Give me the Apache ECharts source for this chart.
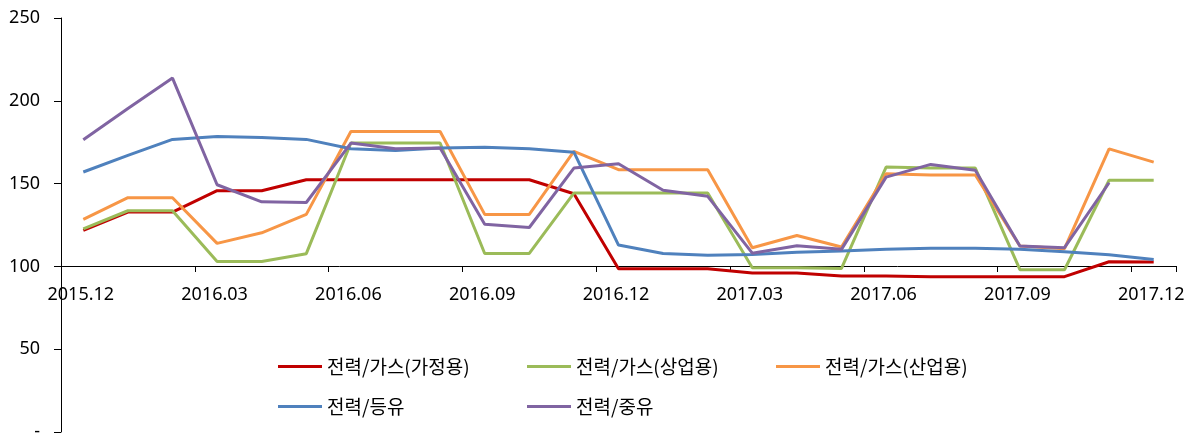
<!DOCTYPE html>
<html>
<head>
<meta charset="utf-8">
<script src="https://cdn.jsdelivr.net/npm/echarts@6/dist/echarts.min.js"></script>
<style>html,body{margin:0;padding:0;background:#fff;overflow:hidden;}#c{width:1199px;height:433px;}</style>
</head>
<body>
<div id="c"></div>
<script>
const categories = ['2015.12','2016.01','2016.02','2016.03','2016.04','2016.05','2016.06','2016.07','2016.08','2016.09','2016.10','2016.11','2016.12','2017.01','2017.02','2017.03','2017.04','2017.05','2017.06','2017.07','2017.08','2017.09','2017.10','2017.11','2017.12'];
const seriesNames = ['전력/가스(가정용)','전력/가스(상업용)','전력/가스(산업용)','전력/등유','전력/중유'];
const household = [121.7,132.8,132.8,145.7,145.7,152.3,152.3,152.3,152.3,152.3,152.3,143.9,98.6,98.6,98.6,96,96,94.2,94.2,93.8,93.8,93.8,93.8,102.8,102.6];
const commercial = [122.7,133.6,133.6,103,103,107.7,174.5,174.5,174.5,107.8,107.8,144.3,144.3,144.3,144.3,99.2,99.2,98.8,160,159.4,159.4,98,98,152,152];
const industrial = [128.4,141.5,141.5,113.9,120.3,131.4,181.5,181.5,181.5,131.4,131.4,169.4,158.4,158.4,158.4,111.3,118.7,111.7,156,155.2,155.2,112.3,110.7,171,163];
const kerosene = [157,167,176.7,178.5,177.9,176.7,171,170,171.5,172,171,169,112.9,107.8,106.8,107.2,108.6,109.3,110.3,111,110.9,110.3,108.9,107,104.2];
const heavyOil = [176.5,195.4,213.7,149.3,139,138.6,174.5,171.1,171.5,125.4,123.5,159.4,162,146,142.3,108,112.5,110.3,153.9,161.6,158,112.3,111.3,150.5,null];
const yTicks = [0,50,100,150,200,250];

const colors = ['#C00000','#9BBB59','#F79646','#4F81BD','#8064A2'];
const values = [household, commercial, industrial, kerosene, heavyOil];
const legendPos = [[278,357],[527,357],[776,357],[278,397],[527,397]];

const chart = echarts.init(document.getElementById('c'), null, {renderer:'canvas'});
chart.setOption({
  animation:false,
  color: colors,
  grid:{left:61, right:23, top:18, bottom:1, containLabel:false, outerBoundsMode:'none'},
  legend: seriesNames.map((n,i)=>({
    data:[n], left:legendPos[i][0], top:legendPos[i][1], padding:0,
    icon:'rect', itemWidth:44, itemHeight:3, itemGap:5,
    textStyle:{fontFamily:'Noto Sans CJK KR', fontSize:19, color:'#000', padding:[0,0,0,0]}
  })),
  xAxis:{
    type:'category', data:categories, boundaryGap:true, position:'bottom', offset:-166,
    axisLine:{onZero:false, lineStyle:{color:'#000', width:1}},
    axisTick:{show:true, interval:2, alignWithLabel:false, length:6, inside:false, lineStyle:{color:'#000'}},
    axisLabel:{interval:2, color:'#000', fontFamily:'Noto Sans', fontSize:18, margin:20, padding:[0,5,0,0]},
    splitLine:{show:false}
  },
  yAxis:{
    type:'value', min:0, max:250, interval:50,
    axisLine:{show:true, lineStyle:{color:'#000', width:1}},
    axisTick:{show:true, length:7, lineStyle:{color:'#000'}},
    axisLabel:{color:'#000', fontFamily:'Noto Sans', fontSize:18, margin:21,
      formatter:function(v){ return yTicks.indexOf(v)===0 ? '-' : String(v); }},
    splitLine:{show:false}
  },
  series: seriesNames.map((n,i)=>({
    name:n, type:'line', data:values[i], symbol:'none', showSymbol:false,
    lineStyle:{width:3, color:colors[i]}, itemStyle:{color:colors[i]}, connectNulls:false, z:2+i
  }))
});
</script>
</body>
</html>
